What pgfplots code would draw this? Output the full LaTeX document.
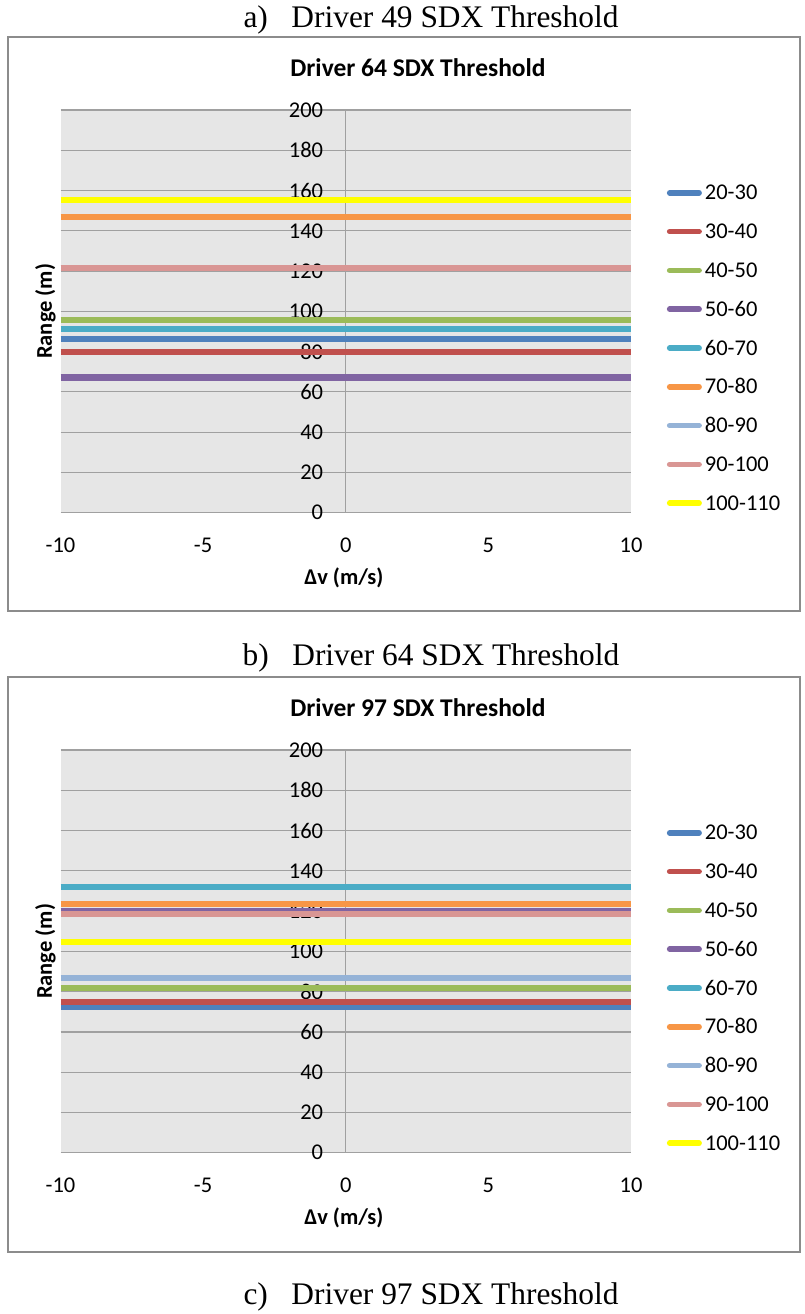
\documentclass[border=0pt]{standalone}
\usepackage{pgfplots}
\pgfplotsset{compat=1.18}
\usepackage{fontspec}
\setmainfont{Carlito}
\newfontfamily\capfont{Liberation Serif}
\definecolor{s1}{RGB}{79,129,189}
\definecolor{s2}{RGB}{192,80,77}
\definecolor{s3}{RGB}{155,187,89}
\definecolor{s4}{RGB}{128,100,162}
\definecolor{s5}{RGB}{75,172,198}
\definecolor{s6}{RGB}{247,150,70}
\definecolor{s7}{RGB}{149,179,215}
\definecolor{s8}{RGB}{217,150,148}
\definecolor{s9}{RGB}{255,255,0}
\definecolor{plotbg}{RGB}{230,230,230}
\definecolor{gridc}{RGB}{160,160,160}
\definecolor{boxc}{RGB}{140,140,140}
\pgfplotsset{
  panel/.style={
    scale only axis, width=570.5pt, height=402.7pt,
    xmin=-10, xmax=10, ymin=0, ymax=200,
    xtick={-10,-5,0,5,10}, ytick={0,20,...,200},
    axis line style={draw=none},
    major tick length=0pt,
    ymajorgrids, grid style={draw=gridc, line width=1.2pt},
    extra x ticks={0}, extra x tick labels={},
    extra x tick style={grid=major, major grid style={draw=gridc, line width=1.2pt}},
    axis background/.style={fill=plotbg},
    /pgf/number format/assume math mode=true,
    tick label style={font=\fontsize{22.5}{27}\selectfont},
    yticklabel style={anchor=east, inner sep=0pt, xshift=262.8pt},
    xticklabel style={anchor=north, inner sep=0pt, yshift=-25pt},
    xlabel={Δv (m/s)}, ylabel={Range (m)},
    every axis x label/.style={at={(axis description cs:0.4966,-0.162)}, anchor=center, font=\fontsize{22.5}{27}\selectfont\bfseries},
    every axis y label/.style={at={(axis description cs:-0.0263,0.5)}, anchor=center, rotate=90, font=\fontsize{22.5}{27}\selectfont\bfseries},
    every axis plot/.append style={line width=6.2pt},
    legend style={at={(axis description cs:1.0573,0.8172)}, anchor=north west, draw=none, fill=none,
      font=\fontsize{22.5}{27}\selectfont, row sep=24.8pt,
      nodes={inner sep=0pt, text height=14pt, text depth=0pt},
      /tikz/every odd column/.append style={column sep=3pt}},
    legend cell align=left,
    legend image code/.code={\draw[#1, line cap=round, line width=5.5pt] (2.75pt,0pt) -- (32.25pt,0pt); \path[draw=none, fill=none] (0pt,-7pt) rectangle (35pt,7pt);},
  }
}
\begin{document}
\begin{tikzpicture}
\path[use as bounding box] (0pt,0pt) rectangle (804pt,-1314pt);
% captions
\node[font=\capfont\fontsize{31.4}{37}\selectfont] at (431pt,-20pt) {a)\hspace{0.75em}Driver 49 SDX Threshold};
\node[font=\capfont\fontsize{31.4}{37}\selectfont] at (431pt,-658pt) {b)\hspace{0.75em}Driver 64 SDX Threshold};
\node[font=\capfont\fontsize{31.4}{37}\selectfont] at (431pt,-1297pt) {c)\hspace{0.75em}Driver 97 SDX Threshold};
% panel frames
\draw[boxc, line width=2pt] (8.3pt,-36.7pt) rectangle (800pt,-610.7pt);
\draw[boxc, line width=2pt] (8.3pt,-677pt) rectangle (800pt,-1251.7pt);
% titles
\node[font=\fontsize{25.5}{30}\selectfont\bfseries] at (418pt,-68pt) {Driver 64 SDX Threshold};
\node[font=\fontsize{25.5}{30}\selectfont\bfseries] at (418pt,-708pt) {Driver 97 SDX Threshold};

\begin{axis}[panel, at={(60.5pt,-512.7pt)}, anchor=south west]
\addplot[s1] coordinates {(-10,86.1) (10,86.1)}; \addlegendentry{20-30}
\addplot[s2] coordinates {(-10,79.7) (10,79.7)}; \addlegendentry{30-40}
\addplot[s3] coordinates {(-10,95.6) (10,95.6)}; \addlegendentry{40-50}
\addplot[s4] coordinates {(-10,67.1) (10,67.1)}; \addlegendentry{50-60}
\addplot[s5] coordinates {(-10,91.3) (10,91.3)}; \addlegendentry{60-70}
\addplot[s6] coordinates {(-10,147.0) (10,147.0)}; \addlegendentry{70-80}
\addplot[s7] coordinates {(-10,121.5) (10,121.5)}; \addlegendentry{80-90}
\addplot[s8] coordinates {(-10,121.7) (10,121.7)}; \addlegendentry{90-100}
\addplot[s9] coordinates {(-10,155.2) (10,155.2)}; \addlegendentry{100-110}
\end{axis}

\begin{axis}[panel, at={(60.5pt,-1152.7pt)}, anchor=south west]
\addplot[s1] coordinates {(-10,72.2) (10,72.2)}; \addlegendentry{20-30}
\addplot[s2] coordinates {(-10,74.7) (10,74.7)}; \addlegendentry{30-40}
\addplot[s3] coordinates {(-10,81.7) (10,81.7)}; \addlegendentry{40-50}
\addplot[s4] coordinates {(-10,119.8) (10,119.8)}; \addlegendentry{50-60}
\addplot[s5] coordinates {(-10,131.8) (10,131.8)}; \addlegendentry{60-70}
\addplot[s6] coordinates {(-10,123.4) (10,123.4)}; \addlegendentry{70-80}
\addplot[s7] coordinates {(-10,86.6) (10,86.6)}; \addlegendentry{80-90}
\addplot[s8] coordinates {(-10,118.5) (10,118.5)}; \addlegendentry{90-100}
\addplot[s9] coordinates {(-10,104.8) (10,104.8)}; \addlegendentry{100-110}
\end{axis}
\end{tikzpicture}
\end{document}
